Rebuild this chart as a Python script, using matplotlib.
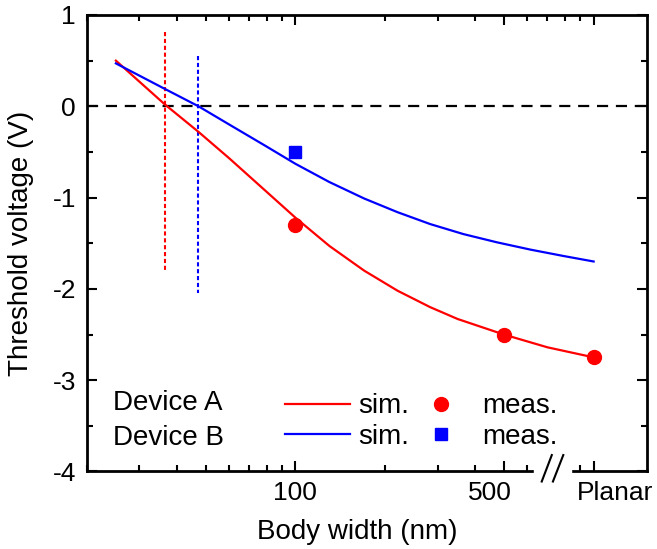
import matplotlib
matplotlib.use("Agg")
import matplotlib.pyplot as plt
import matplotlib.transforms as mtransforms
from matplotlib.ticker import FixedLocator, NullFormatter, LogLocator

plt.rcParams['font.family'] = ['Liberation Sans', 'DejaVu Sans']
plt.rcParams['axes.unicode_minus'] = False

# simulated curves (body width in nm, Vth in V); planar plotted at 1000 nm
simA_w = [25, 36.5, 47.3, 60, 79, 100, 130, 170, 220, 283, 350, 500, 700, 1000]
simA_v = [0.50, 0.02, -0.28, -0.57, -0.92, -1.22, -1.53, -1.80, -2.02, -2.20, -2.33, -2.50, -2.64, -2.75]
simB_w = [25, 36.5, 47.3, 60, 79, 100, 130, 170, 220, 283, 366, 474, 614, 793, 1000]
simB_v = [0.47, 0.19, 0.0, -0.20, -0.43, -0.63, -0.83, -1.01, -1.16, -1.29, -1.40, -1.49, -1.57, -1.64, -1.70]

# measured points
measA_w = [100, 500, 1000]
measA_v = [-1.30, -2.50, -2.75]
measB_w = [100]
measB_v = [-0.50]

# vertical dotted markers (x, y-top, y-bottom)
markA = (36.5, 0.81, -1.80)
markB = (47.3, 0.55, -2.05)

xtick_vals = [100, 500, 1000]
xtick_labels = ['100', '500', 'Planar']
ytick_vals = [-4, -3, -2, -1, 0, 1]

fig = plt.figure(figsize=(6.57, 5.49), dpi=100)
ax = fig.add_axes([0.1324, 0.1412, 0.8524, 0.8315])

ax.axhline(0, color='black', lw=1.6, ls=(0, (5, 3.5)), zorder=1)
ax.plot([markA[0], markA[0]], [markA[1], markA[2]], color='red', lw=1.5, ls=(0, (2, 1.3)))
ax.plot([markB[0], markB[0]], [markB[1], markB[2]], color='blue', lw=1.5, ls=(0, (2, 1.3)))

lA, = ax.plot(simA_w, simA_v, color='red', lw=1.6)
lB, = ax.plot(simB_w, simB_v, color='blue', lw=1.6)
mA, = ax.plot(measA_w, measA_v, 'o', color='red', ms=10, ls='none')
mB, = ax.plot(measB_w, measB_v, 's', color='blue', ms=9, ls='none')

ax.set_xscale('log')
ax.set_xlim(20, 1510)
ax.set_ylim(-4, 1)

ax.xaxis.set_major_locator(FixedLocator(xtick_vals))
ax.set_xticklabels(xtick_labels)
ax.xaxis.set_minor_locator(LogLocator(base=10, subs=range(2, 10)))
ax.xaxis.set_minor_formatter(NullFormatter())
ax.set_yticks(ytick_vals)
ax.set_yticklabels([str(v) for v in ytick_vals])
ax.set_yticks([-3.5, -2.5, -1.5, -0.5, 0.5], minor=True)

ax.tick_params(which='both', direction='in', top=True, right=True, width=1.5, labelsize=19)
ax.tick_params(which='major', length=7.5)
ax.tick_params(which='minor', length=4)
ax.tick_params(axis='x', pad=7)
ax.tick_params(axis='y', pad=8)
for s in ax.spines.values():
    s.set_linewidth(2)

# nudge the 500 and Planar labels like the original
shifts = {'500': -14, 'Planar': 21}
for lab in ax.get_xticklabels():
    if lab.get_text() in shifts:
        lab.set_transform(lab.get_transform() + mtransforms.ScaledTranslation(shifts[lab.get_text()] / 100, 0, fig.dpi_scale_trans))

# axis break on the bottom spine
trans = mtransforms.blended_transform_factory(ax.transData, ax.transAxes)
ax.add_patch(plt.Rectangle((632, -0.03), 842 - 632, 0.06, transform=trans, color='white', clip_on=False, zorder=5))
ax.plot([0.812, 0.830], [-0.022, 0.036], transform=ax.transAxes, color='black', lw=1.5, clip_on=False, zorder=6)
ax.plot([0.832, 0.8505], [-0.022, 0.036], transform=ax.transAxes, color='black', lw=1.5, clip_on=False, zorder=6)

ax.set_xlabel('Body width (nm)', fontsize=20)
ax.set_ylabel('Threshold voltage (V)', fontsize=20)
ax.xaxis.set_label_coords(0.482, -0.105)
ax.yaxis.set_label_coords(-0.095, 0.5)

ax.text(0.046, 0.150, 'Device A', transform=ax.transAxes, fontsize=20, va='center')
ax.text(0.046, 0.073, 'Device B', transform=ax.transAxes, fontsize=20, va='center')
ax.legend([lA, lB, mA, mB], ['sim.', 'sim.', 'meas.', 'meas.'], ncol=2, frameon=False,
          fontsize=20, loc='center left', bbox_to_anchor=(0.3536, 0.1095),
          handlelength=2.34, handletextpad=0.29, columnspacing=0.0,
          labelspacing=0.15, borderpad=0, borderaxespad=0)

plt.savefig("out.png", dpi=100)
